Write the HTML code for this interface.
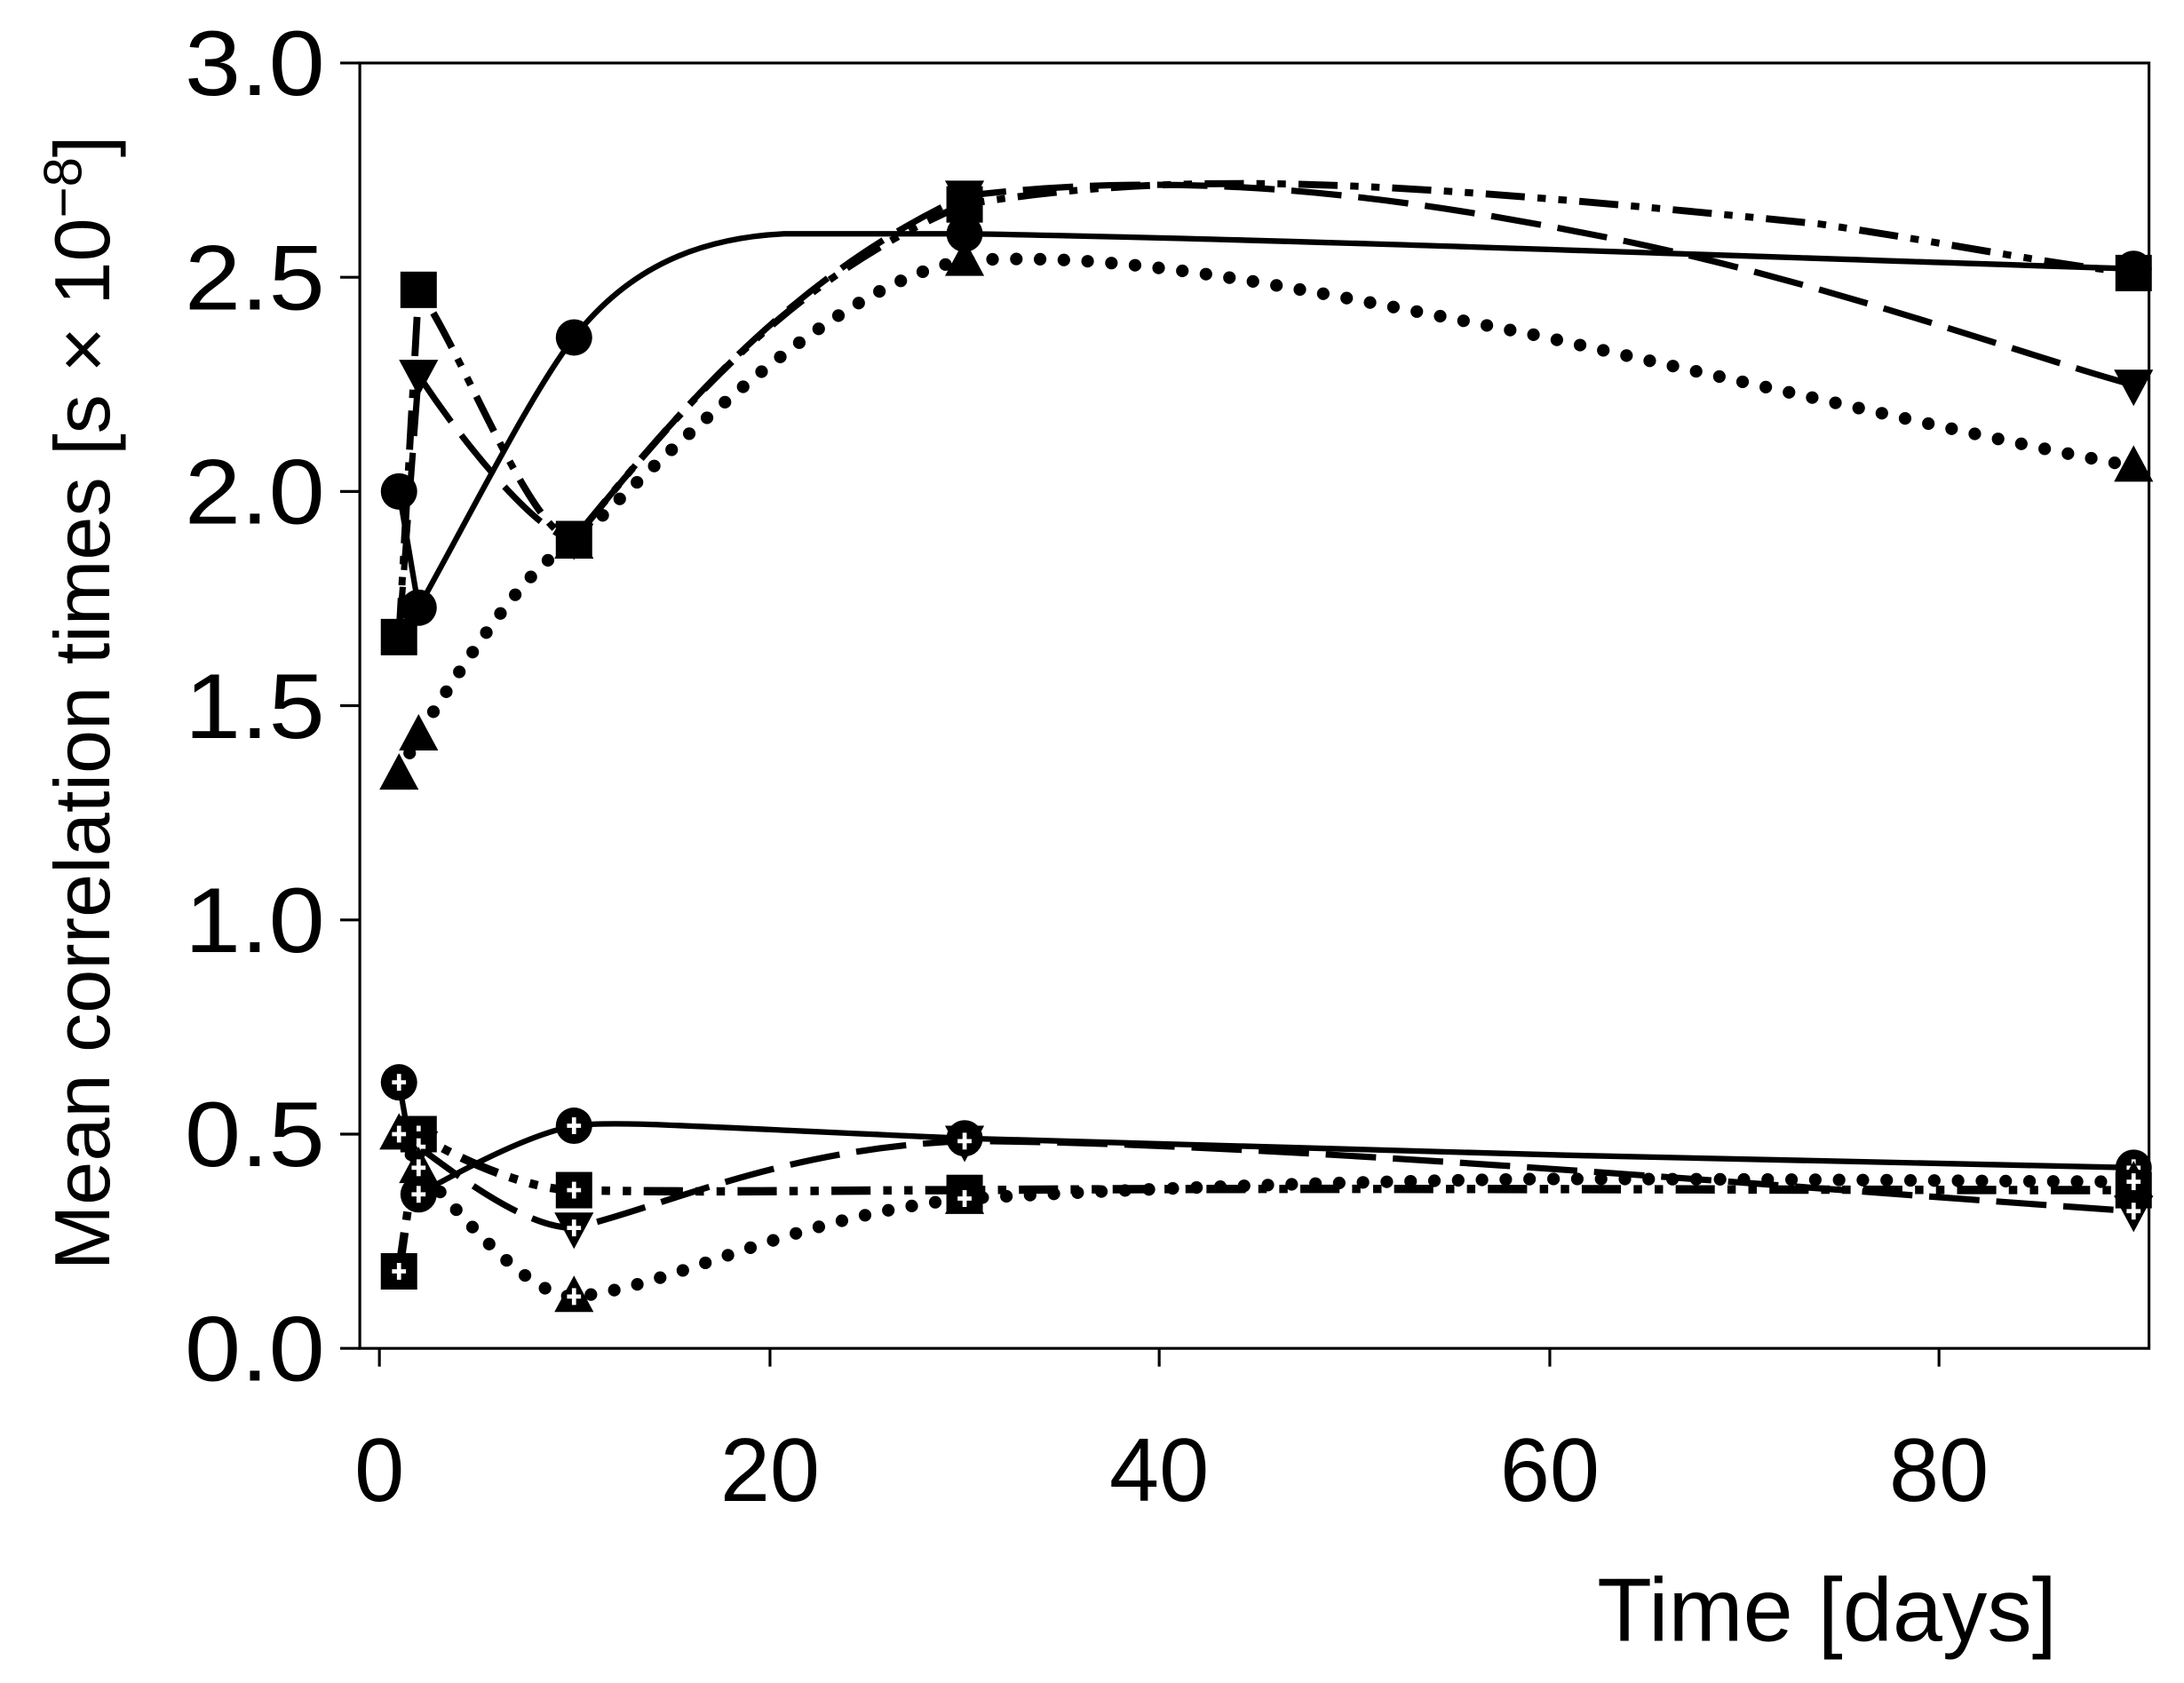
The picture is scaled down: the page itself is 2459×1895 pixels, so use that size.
<!DOCTYPE html>
<html><head><meta charset="utf-8"><style>
html,body{margin:0;padding:0;background:#fff}
svg{display:block}
text{font-family:"Liberation Sans",Arial,sans-serif;fill:#000}
</style></head><body>
<svg width="2459" height="1895" viewBox="0 0 1560 1202" preserveAspectRatio="none" xmlns="http://www.w3.org/2000/svg">
<defs>
<g id="fc"><circle r="13" fill="#000"/></g>
<g id="fs"><rect x="-13" y="-13" width="26" height="26" fill="#000"/></g>
<g id="ft"><polygon points="0,-15 14,11 -14,11" fill="#000"/></g>
<g id="fv"><polygon points="0,15 14,-11 -14,-11" fill="#000"/></g>
<g id="x"><rect x="-1.5" y="-6" width="3" height="12" fill="#fff"/><rect x="-5" y="-1.5" width="10" height="3" fill="#fff"/></g>
</defs>
<rect x="257" y="45" width="1278" height="918" fill="none" stroke="#000" stroke-width="2"/>
<g stroke="#000" stroke-width="2">
<line x1="243" y1="963" x2="257" y2="963"/><line x1="243" y1="810" x2="257" y2="810"/>
<line x1="243" y1="657" x2="257" y2="657"/><line x1="243" y1="504" x2="257" y2="504"/>
<line x1="243" y1="351" x2="257" y2="351"/><line x1="243" y1="198" x2="257" y2="198"/>
<line x1="243" y1="45" x2="257" y2="45"/>
<line x1="271" y1="963" x2="271" y2="976"/><line x1="550" y1="963" x2="550" y2="976"/>
<line x1="828" y1="963" x2="828" y2="976"/><line x1="1107" y1="963" x2="1107" y2="976"/>
<line x1="1385" y1="963" x2="1385" y2="976"/>
</g>
<g font-size="66" text-anchor="end">
<text x="232" y="986" textLength="100" lengthAdjust="spacingAndGlyphs">0.0</text>
<text x="232" y="833" textLength="100" lengthAdjust="spacingAndGlyphs">0.5</text>
<text x="232" y="680" textLength="100" lengthAdjust="spacingAndGlyphs">1.0</text>
<text x="232" y="527" textLength="100" lengthAdjust="spacingAndGlyphs">1.5</text>
<text x="232" y="374" textLength="100" lengthAdjust="spacingAndGlyphs">2.0</text>
<text x="232" y="221" textLength="100" lengthAdjust="spacingAndGlyphs">2.5</text>
<text x="232" y="68" textLength="100" lengthAdjust="spacingAndGlyphs">3.0</text>
</g>
<g font-size="64" text-anchor="middle">
<text x="271" y="1072">0</text><text x="550" y="1072">20</text><text x="828" y="1072">40</text>
<text x="1107" y="1072">60</text><text x="1385" y="1072">80</text>
</g>
<text x="1305" y="1172" font-size="64" text-anchor="middle">Time [days]</text>
<text transform="translate(78,502) rotate(-90)" font-size="56" text-anchor="middle">Mean correlation times [s × 10<tspan font-size="38" dy="-20">−8</tspan><tspan dy="20">]</tspan></text>

<g fill="none" stroke="#000" stroke-width="4">
<path d="M285,351 L299,434 C340,360 380,280 410,241 C450,190 500,170 560,167 L689,167 C900,170 1300,185 1524,192"/>
<path stroke-width="5" stroke-dasharray="28,9,6,9,6,9" d="M285,455 L299,207 C330,250 380,385 410,385 C480,300 560,200 689,146 C850,120 1000,130 1300,160 C1400,175 1460,188 1524,195"/>
<path stroke-width="4.5" stroke-dasharray="36,12" d="M285,455 L299,268 C340,330 390,385 410,385 C480,300 560,200 689,140 C850,120 1000,140 1150,170 C1300,200 1450,255 1524,275"/>
<path stroke-width="9" stroke-linecap="round" stroke-dasharray="0,17" d="M285,553 L299,525 C340,460 380,400 410,388 C480,320 600,200 689,186 C800,180 900,200 1100,240 C1300,285 1450,320 1524,333"/>
</g>
<g fill="none" stroke="#000" stroke-width="4">
<path d="M285,773 L299,853 C340,830 380,810 410,804 C440,800 500,805 689,813 C900,820 1300,830 1524,834"/>
<path stroke-dasharray="28,9,6,9,6,9" stroke-width="6" d="M285,908 L299,810 C330,830 380,850 410,850 C500,852 600,850 689,850 C900,848 1300,850 1524,850"/>
<path stroke-width="4.5" stroke-dasharray="36,12" d="M299,819 C340,850 380,877 410,877 C480,860 560,820 689,815 C900,815 1300,850 1524,865"/>
<path stroke-width="9" stroke-linecap="round" stroke-dasharray="0,17" d="M285,810 L299,834 C340,880 380,926 410,926 C480,920 560,870 689,856 C800,850 900,845 1100,842 C1300,842 1450,844 1524,844"/>
</g>
<use href="#fc" x="285" y="351"/><use href="#fc" x="299" y="434"/><use href="#fc" x="410" y="241"/><use href="#fc" x="689" y="167"/><use href="#fc" x="1524" y="192"/>
<use href="#fs" x="285" y="455"/><use href="#fs" x="299" y="207"/><use href="#fs" x="410" y="385"/><use href="#fs" x="689" y="146"/><use href="#fs" x="1524" y="195"/>
<use href="#fv" x="299" y="268"/><use href="#fv" x="410" y="385"/><use href="#fv" x="689" y="140"/><use href="#fv" x="1524" y="275"/>
<use href="#ft" x="285" y="553"/><use href="#ft" x="299" y="525"/><use href="#ft" x="410" y="388"/><use href="#ft" x="689" y="186"/><use href="#ft" x="1524" y="333"/>
<g><use href="#fc" x="285" y="773"/><use href="#x" x="285" y="773"/>
<use href="#fc" x="299" y="853"/><use href="#x" x="299" y="853"/>
<use href="#fc" x="410" y="804"/><use href="#x" x="410" y="804"/>
<use href="#fc" x="689" y="813"/><use href="#x" x="689" y="813"/>
<use href="#fc" x="1524" y="834"/><use href="#x" x="1524" y="834"/>
<use href="#fs" x="285" y="908"/><use href="#x" x="285" y="908"/>
<use href="#fs" x="299" y="810"/><use href="#x" x="299" y="810"/>
<use href="#fs" x="410" y="850"/><use href="#x" x="410" y="850"/>
<use href="#fs" x="689" y="852"/><use href="#x" x="689" y="852"/>
<use href="#fs" x="1524" y="850"/><use href="#x" x="1524" y="850"/>
<use href="#fv" x="299" y="819"/><use href="#x" x="299" y="819"/>
<use href="#fv" x="410" y="877"/><use href="#x" x="410" y="877"/>
<use href="#fv" x="689" y="815"/><use href="#x" x="689" y="815"/>
<use href="#fv" x="1524" y="865"/><use href="#x" x="1524" y="865"/>
<use href="#ft" x="285" y="810"/><use href="#x" x="285" y="810"/>
<use href="#ft" x="299" y="834"/><use href="#x" x="299" y="834"/>
<use href="#ft" x="410" y="926"/><use href="#x" x="410" y="926"/>
<use href="#ft" x="689" y="856"/><use href="#x" x="689" y="856"/>
<use href="#ft" x="1524" y="844"/><use href="#x" x="1524" y="844"/></g>
</svg>
</body></html>
